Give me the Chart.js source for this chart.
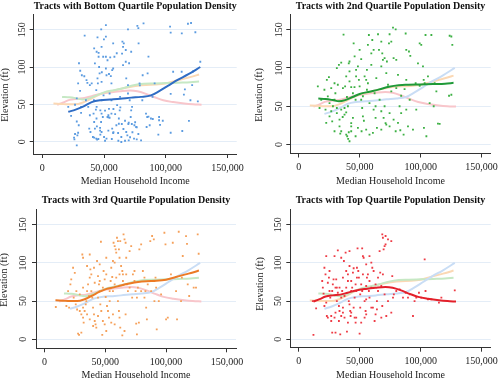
<!DOCTYPE html>
<html><head><meta charset="utf-8">
<script src="https://cdn.jsdelivr.net/npm/chart.js@4.4.1/dist/chart.umd.min.js"></script>
<style>
html,body{margin:0;padding:0;background:#fff;}
#wrap{position:relative;width:500px;height:382px;overflow:hidden;background:#fff;}
.cell{position:absolute;width:250px;height:191px;}
canvas{display:block;}
</style></head><body>
<div id="wrap">
<div class="cell" style="left:0;top:0"><canvas id="c0" width="250" height="191"></canvas></div>
<div class="cell" style="left:250px;top:0"><canvas id="c1" width="250" height="191"></canvas></div>
<div class="cell" style="left:0;top:191px"><canvas id="c2" width="250" height="191"></canvas></div>
<div class="cell" style="left:250px;top:191px"><canvas id="c3" width="250" height="191"></canvas></div>
</div>
<script>
// ---------- DATA ----------
const panelTitles = [
  'Tracts with Bottom Quartile Population Density',
  'Tracts with 2nd Quartile Population Density',
  'Tracts with 3rd Quartile Population Density',
  'Tracts with Top Quartile Population Density'
];
const xAxisTitle = 'Median Household Income';
const yAxisTitle = 'Elevation (ft)';
const xTicks = [0, 50000, 100000, 150000];
const yTicks = [0, 50, 100, 150];

// [median household income ($), elevation (ft)]
const bottomQuartile = [[21000,46.6],[23300,34.5],[25700,5.4],[26000,3],[27900,-5],[28400,8.5],[29000,12],[29500,22],[27900,27],[29700,105],[30700,95],[32000,89],[29000,78],[30600,68],[27900,58],[31400,46.6],[31400,38.5],[34300,142],[35800,82.4],[36500,78.8],[38500,75.7],[35300,55.5],[37200,46.6],[38500,35.4],[38000,17.5],[39000,13],[41000,6.3],[42000,5.4],[43700,4],[44400,2.7],[42600,17.5],[44200,20.6],[42000,26.4],[43900,31],[41500,37.6],[43400,43],[44000,46.6],[41800,55.5],[43700,69],[42000,125],[44000,120.5],[42600,104.8],[44700,139.8],[45600,119],[45600,113.8],[46000,100],[46400,91.4],[44700,84.7],[47700,150.5],[51500,156],[51500,140.6],[49900,137],[48000,127],[49300,113.8],[51500,113.8],[52800,109],[51500,98],[52000,89],[48000,80],[49600,62],[48000,55.5],[47000,42],[48000,37.6],[49000,33],[47600,26.4],[46800,18.4],[48000,13],[47000,9.4],[50000,6.3],[52000,4],[52800,33],[53500,35.4],[54500,32],[56000,37.6],[54000,44],[56000,55.5],[54500,64.5],[56000,78],[55500,87.8],[56600,95.9],[57400,98],[55000,113],[58400,113.8],[57400,131.7],[57400,11.6],[56600,17.5],[61400,11.6],[60000,22],[62000,31],[62700,42],[60600,49],[63000,60],[62000,24],[64000,6.3],[64000,-0.4],[65400,102.6],[64600,118],[65400,127],[66000,131.7],[64900,134],[67600,107],[68000,84.7],[69400,75.7],[69400,64.5],[70800,55.5],[72000,42],[71600,33],[70000,25.5],[68000,13],[68900,8.5],[70000,1.8],[69400,150.5],[72000,120.5],[72700,46.6],[74600,22],[76000,19.7],[74300,4],[76500,3],[80000,1.8],[78000,131.7],[77000,155],[82000,158.5],[78800,78],[81000,55.5],[84000,37.6],[85000,33],[84500,19.7],[87000,22],[85300,91.4],[81300,89],[88000,31],[89300,60],[91000,78],[94600,33],[94600,28.7],[94000,9.4],[103500,154],[104000,146],[104000,12],[106000,93.6],[113000,145],[112900,93.6],[113400,14.3],[114700,63],[115500,70],[118000,158],[120500,159],[121400,75.7],[120000,55.5],[118800,27.8],[124000,146.5],[126000,54],[128000,107],[122000,94],[86000,114],[104000,64],[79000,75.5],[86000,33.5],[89500,30.4],[97600,28],[95400,22.4],[60300,118.4],[67600,122.8],[70300,105],[77800,152],[34000,87.6],[40000,78],[45000,78],[48200,93],[54000,90.7],[26500,49.5],[50800,41.5],[57600,43.8],[63200,46],[53500,32.7],[59000,37],[64400,23.7],[67000,28],[69700,23.7],[72500,23.7],[75200,26],[76500,19.3],[46800,14.7],[53500,14.7],[57600,12.6],[65700,17],[73000,12.6],[77800,10.3],[26500,10.3],[45400,3.6],[50800,1.3],[56300,3.6],[61600,1.3],[67000,1.3],[71100,5.9]];

const secondQuartile = [[15600,75.9],[17000,47.7],[23000,84.5],[24700,88],[23800,62.9],[25200,54],[21900,45.5],[25200,36.8],[26600,43.4],[28000,50],[27400,30.3],[29300,58.5],[30000,67],[31200,99.7],[32900,104],[34800,107],[36700,143.5],[31200,41],[33400,32.5],[33400,23.8],[34800,17.3],[36000,36],[38900,89],[38000,76],[39500,62],[40300,50],[38900,42],[37500,39],[41000,106],[41600,108.4],[38900,13],[39700,10.8],[40500,7.4],[41600,4.3],[41000,16],[43000,28],[43000,23.8],[44400,34.7],[44400,67],[45700,75],[45000,132],[47000,97.5],[48500,102],[49300,84.5],[49900,75.9],[51200,58.5],[51200,111.4],[52000,47.7],[52600,36.8],[53400,31],[51500,17.3],[54000,88.9],[55300,84.5],[56700,80],[55900,71.5],[56700,130],[57500,143],[59500,119],[60300,136.5],[61400,123.5],[62200,67],[63000,50],[63000,34.7],[64100,21.7],[65000,144],[65800,123.5],[67700,134.4],[68500,119],[69000,110.5],[70400,112.7],[72300,108.4],[69600,34.7],[71200,28],[71800,26],[74000,132],[74500,144],[75900,134.4],[77300,152.6],[79500,150.4],[77800,112.7],[80000,110.5],[81400,91],[82700,50],[84000,41],[86800,72.4],[87700,145],[88200,123.5],[90400,121.4],[91500,115.7],[89600,23.8],[93700,19.5],[96400,45.5],[97800,106],[99200,132],[100500,130],[101900,102],[102500,84.5],[103300,80],[106000,88.9],[102700,21.7],[104700,10.8],[107400,54],[104000,143],[108800,143],[111500,80],[110700,50],[114200,27.3],[115600,27],[112900,69.3],[123800,142],[125200,141],[126000,130],[123300,63.7],[125200,65],[41600,82.4],[47000,89],[43000,75],[46600,58.5],[52600,63],[58000,54],[61400,45.5],[66300,58.5],[67700,43.4],[70400,50],[74500,41],[77800,32.5],[79500,17.3],[83300,18.6],[86000,13],[88200,45.5],[91000,58.5],[95900,80],[99200,76.7],[36200,73.7],[32000,78],[29300,80],[26600,73.7],[41600,95.4],[45800,115],[49900,123.5],[55900,97.5],[59500,104],[63600,86.7],[67700,102],[71800,93.2],[73200,78],[75900,69.4],[80000,73.7],[84000,63.7],[88200,84.5],[43000,17.3],[46600,10.8],[48500,21.7],[55300,19.5],[58000,13],[60800,15.2],[67700,19.5],[74500,23.8],[81400,28.2],[31200,47.7],[34800,45.5],[37500,47.7],[21000,71.5],[18400,58.5],[22500,28.2],[29300,17.3],[34000,14.3]];

const thirdQuartile = [[9300,42.3],[18000,43.6],[19400,63],[20200,41.4],[21300,72],[22000,78.5],[23500,93.7],[24900,87],[24000,54.5],[25700,45.8],[26800,39],[27600,7.4],[28400,5.7],[30300,8.7],[31100,111],[30300,32.7],[31700,28.3],[32200,21.8],[33000,37],[33900,45.8],[35000,63],[35800,72],[37200,80.7],[37700,91.6],[38500,85],[39300,54.5],[39900,41.4],[40700,32.7],[41300,24],[42000,19.6],[42600,15.3],[43200,102.5],[44000,82.8],[44800,72],[45400,63],[45900,45.8],[46700,37],[48000,24],[47500,5.7],[46400,127.7],[48600,89.4],[49500,78.5],[50300,55.4],[51400,43.6],[52200,37],[53000,28.3],[53600,63],[54400,76.3],[55700,81.5],[56300,102.5],[56800,126.4],[57700,122],[58500,117.7],[59000,113.4],[59600,133],[60400,128.6],[61200,117.7],[61700,106.8],[62300,128.6],[63000,96],[64000,89.4],[64500,85],[65000,137.3],[65800,130.8],[66700,126.4],[67200,106.8],[67800,72],[68600,63],[60400,50],[61200,37],[61700,28.3],[64000,5.2],[65800,10.9],[66700,32.7],[70000,115.5],[71300,122],[72700,85],[74000,76.3],[74900,63],[76000,54.5],[75400,20.5],[76000,6.5],[77600,21.8],[78000,117.7],[79500,124.3],[80900,89.4],[82200,80.7],[83000,63],[83600,41.4],[84200,26],[87000,128.6],[88500,135.2],[89900,130.8],[91300,80.7],[91800,67.6],[92300,13],[94000,50],[95900,58.9],[98600,139.5],[99500,124.3],[100000,26],[101400,28.3],[104000,85],[105500,126.4],[108200,63],[109000,26],[110400,140.8],[112300,50],[113000,80.7],[113700,109],[116400,135],[117200,125],[117800,72],[119000,56.7],[122700,67.6],[124600,67.6],[126000,137.3],[126800,112],[29000,58.9],[31700,67.6],[34400,50],[36600,56.7],[38500,63],[41300,74],[44000,54.5],[45400,76.3],[48000,67.6],[50800,85],[53600,50],[56300,63],[57700,72],[59000,80.7],[61700,85],[64500,76.3],[67200,85],[70000,67.6],[72100,54.5],[74000,89.4],[76800,67.6],[79500,63],[82200,54.5],[84900,72],[87700,63],[90400,50],[26200,63],[29000,37],[31700,41.4],[35000,32.7],[37200,26],[40000,17.4],[44000,30.5],[49500,19.6],[50800,10.9],[54900,21.8],[57700,19.6],[62300,15.3],[56300,32.7],[45400,98],[40700,93.7],[35000,96],[31700,106.8],[37200,111],[50800,106.8],[54900,93.7],[57700,100.3]];

const topQuartile = [[12000,5.7],[11500,50],[14200,40.5],[19200,76.3],[19700,67.6],[20300,59.7],[21000,43.6],[22500,109],[23000,30.5],[23800,28.3],[24700,80.7],[25200,63.2],[25800,54.5],[26600,30.5],[27400,8.7],[27900,72],[28500,78.5],[29300,28.3],[30100,8.7],[30700,78.5],[31200,67.6],[32000,61],[32000,116.4],[32900,43.6],[33400,37],[34000,6.5],[34800,30.5],[35600,63.2],[36200,80.7],[37000,102.5],[37500,28.3],[38400,113.4],[38900,89.4],[39500,10],[40300,85],[41000,50],[41600,45.8],[42200,37],[42500,30.5],[43000,76.3],[43800,67.6],[44400,87.2],[45000,93],[45800,28.3],[46600,21.8],[47100,63.2],[47700,80.7],[48200,119],[48800,89.4],[49900,7.4],[50400,58.9],[51200,72],[52000,119],[52600,109],[53200,106.8],[54000,28.3],[54800,37],[55300,52.3],[55900,80.7],[56700,85],[57500,63.2],[58000,76.3],[59500,100.3],[60300,93.7],[61400,89.4],[62200,24],[63000,32.7],[64100,50],[65000,80.7],[66300,115.5],[66800,87.2],[67700,28.3],[68500,137.3],[69000,133],[69600,117.7],[70400,122],[71200,124.3],[71800,30.5],[75900,128.6],[76700,82.8],[77300,54.5],[78000,58.9],[75900,34.9],[80000,63.2],[82700,65.4],[85500,54.5],[87700,61],[89600,54.5],[91000,58.9],[93700,30.5],[95000,50],[96400,54.5],[98600,61],[100500,54.5],[103300,104.6],[104000,63.2],[106000,52.3],[108800,52.3],[115000,48],[117000,54.5],[128000,64],[21900,85],[23800,74],[25200,89.4],[27400,63.2],[30100,67.6],[31200,50],[33400,67.6],[34800,54.5],[36200,41.4],[37500,56.7],[38900,67.6],[40300,76.3],[41600,96],[43000,63.2],[45000,41.4],[45800,54.5],[46600,72],[47700,93.7],[49300,80.7],[50400,41.4],[52000,63.2],[52600,85],[54000,50],[55300,69.8],[58000,54.5],[59500,67.6],[60800,41.4],[63000,72],[65000,63.2],[67700,69.8],[69000,85],[70400,58.9],[73200,50],[22500,48],[26600,24],[30100,34.9],[32900,24],[36200,34.9],[40300,21.8],[43000,34.9],[47100,28.3],[51200,21.8],[55300,32.7],[59500,41.4],[64100,39.2],[68500,43.6],[21000,93.7],[29300,109],[41600,115.5],[34800,106.8],[55300,98],[58000,109],[73200,130.8],[71200,135.2]];

// smoothed (lowess) fits: [income, elevation]
const bottomFit = [[21000,40],[27000,43],[33000,47],[40000,53],[47000,55.5],[55000,56.5],[63000,57.5],[72000,59],[80000,60],[88000,62],[95000,68],[102000,75],[110000,83],[118000,90],[128000,100]];
const secondFit = [[16000,60],[22000,59.5],[28000,58],[33000,56.5],[38000,58],[44000,62],[50000,66],[58000,69],[66000,72],[74000,75.5],[82000,77.5],[90000,78],[100000,78.5],[110000,79],[120000,79.5],[127000,80.5]];
const thirdFit = [[9000,51],[15000,50.5],[21000,50],[27000,50],[33000,52.5],[39000,57],[45000,62],[51000,66],[57000,68],[63000,70.5],[70000,73],[77000,75],[84000,76],[92000,76.5],[100000,78],[108000,81.5],[116000,85],[122000,87.5],[127000,90]];
const topFit = [[12000,49.5],[17000,52.5],[22000,56],[28000,57.5],[34000,58.5],[40000,61],[47000,64],[55000,66],[63000,67.5],[71000,68.5],[77000,67.5],[84000,64],[91000,59.5],[98000,55.5],[106000,53],[115000,51],[122000,50],[129000,49.5]];

// ---------- STYLE / LAYOUT ----------
const seriesStyle = [
  {points: bottomQuartile, fit: bottomFit, point: '#5b9be0', line: '#2f6cc4', faint: '#c9ddf5'},
  {points: secondQuartile, fit: secondFit, point: '#3cb043', line: '#1f9a38', faint: '#c6e8c4'},
  {points: thirdQuartile,  fit: thirdFit,  point: '#f5a05a', line: '#ec7a25', faint: '#fbd8b4'},
  {points: topQuartile,    fit: topFit,    point: '#ee3b45', line: '#e3202a', faint: '#f8c6cb'}
];
const layouts = [
  {L:33.7, R:236.7, T:14,   B:154,   titleTop:0,   xTitleY:181.7, yTitleX:5.5, yTitleY:95, yLabelX:22.5, ymin:-16.5, ymax:171},
  {L:40.3, R:240.7, T:14,   B:153.5, titleTop:0,   xTitleY:181.7, yTitleX:9.7, yTitleY:95, yLabelX:29,   ymin:-11.7, ymax:170.4},
  {L:36,   R:236,   T:18.3, B:157.3, titleTop:3.3, xTitleY:184,   yTitleX:4.5, yTitleY:89, yLabelX:23,   ymin:-11.8, ymax:170.2},
  {L:40.3, R:240.7, T:18.3, B:156.7, titleTop:3.3, xTitleY:184,   yTitleX:10,  yTitleY:93, yLabelX:28,   ymin:-11,   ymax:170.2}
];
const W = 250, H = 191;
const FONT = '"Liberation Serif", "Times New Roman", serif';
const AXIS = '#333333';
const GRID = '#e4edf7';

Chart.defaults.font.family = FONT;
Chart.defaults.font.size = 10;
Chart.defaults.color = '#222';

const yTitlePlugin = {
  id: 'yTitle',
  afterDraw(chart, args, o) {
    const ctx = chart.ctx;
    ctx.save();
    ctx.translate(o.x, o.y);
    ctx.rotate(-Math.PI / 2);
    ctx.font = '10px ' + FONT;
    ctx.fillStyle = '#222';
    ctx.textAlign = 'center';
    ctx.textBaseline = 'middle';
    ctx.fillText(o.text, 0, 0);
    ctx.restore();
  }
};

const toXY = arr => arr.map(([x, y]) => ({x, y}));

layouts.forEach((lay, k) => {
  const s = seriesStyle[k];
  const datasets = [];
  datasets.push({data: toXY(s.fit), showLine: true, borderColor: s.line, borderWidth: 2,
    pointRadius: 0, cubicInterpolationMode: 'monotone', fill: false});
  datasets.push({data: toXY(s.points), showLine: false, pointStyle: 'rect', pointRadius: 1.3,
    backgroundColor: s.point, borderWidth: 0});
  seriesStyle.forEach((o, j) => {
    if (j === k) return;
    datasets.push({data: toXY(o.fit), showLine: true, borderColor: o.faint, borderWidth: 2,
      pointRadius: 0, cubicInterpolationMode: 'monotone', fill: false});
  });
  const widest = 15;
  new Chart(document.getElementById('c' + k), {
    type: 'scatter',
    data: {datasets},
    plugins: [yTitlePlugin],
    options: {
      responsive: false, animation: false, devicePixelRatio: 1, events: [],
      layout: {padding: {left: 0, right: W - lay.R, top: lay.titleTop, bottom: 0}},
      plugins: {
        legend: {display: false}, tooltip: {enabled: false},
        title: {display: true, text: panelTitles[k], fullSize: false, color: '#111',
          font: {family: FONT, size: 10, weight: 'bold', lineHeight: 1.2},
          padding: {top: 0, bottom: lay.T - lay.titleTop - 12}},
        yTitle: {text: yAxisTitle, x: lay.yTitleX, y: lay.yTitleY}
      },
      scales: {
        x: {
          type: 'linear', min: -7000, max: 157500,
          afterBuildTicks: sc => { sc.ticks = xTicks.map(v => ({value: v})); },
          afterFit: sc => { sc.height = H - lay.B; sc.paddingLeft = 0; sc.paddingRight = 0; },
          ticks: {autoSkip: false, maxRotation: 0, minRotation: 0, padding: 4, color: '#222',
            font: {family: FONT, size: 10},
            callback: v => Number(v).toLocaleString('en-US')},
          grid: {drawOnChartArea: false, tickLength: 4, tickColor: AXIS, tickWidth: 1},
          border: {display: true, color: AXIS, width: 1},
          title: {display: true, text: xAxisTitle, color: '#222', font: {family: FONT, size: 10, lineHeight: 1.2},
            padding: {top: 0, bottom: H - lay.xTitleY - 6}}
        },
        y: {
          type: 'linear', min: lay.ymin, max: lay.ymax,
          afterBuildTicks: sc => { sc.ticks = yTicks.map(v => ({value: v})); },
          afterFit: sc => { sc.width = lay.L; sc.paddingTop = 0; sc.paddingBottom = 0; },
          ticks: {autoSkip: false, minRotation: 90, maxRotation: 90, crossAlign: 'center',
            padding: lay.L - 4 - lay.yLabelX - widest / 2, color: '#222',
            font: {family: FONT, size: 10},
            callback: v => String(v)},
          grid: {drawOnChartArea: true, color: GRID, lineWidth: 1, tickLength: 4, tickColor: AXIS, tickWidth: 1},
          border: {display: true, color: AXIS, width: 1}
        }
      }
    }
  });
});
</script>
</body></html>
